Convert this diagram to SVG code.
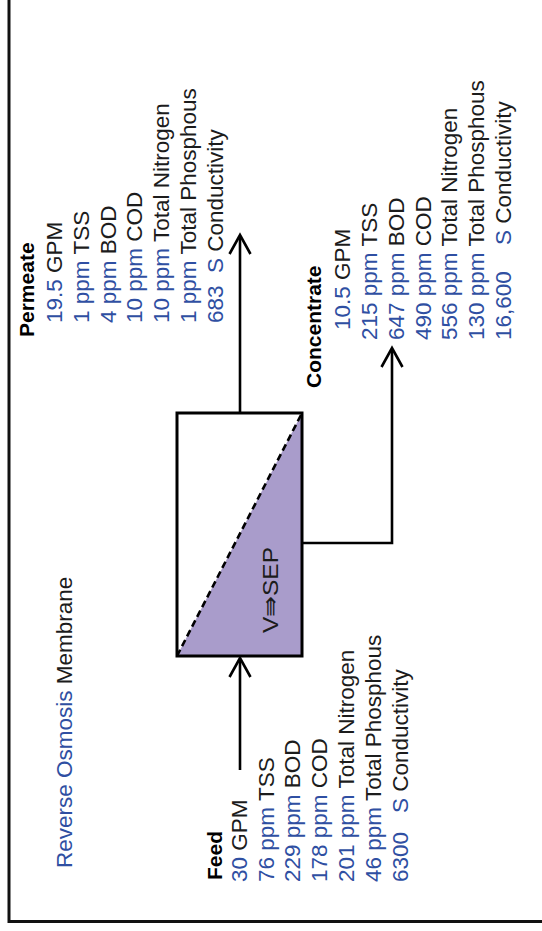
<svg xmlns="http://www.w3.org/2000/svg" width="542" height="931" viewBox="0 0 542 931">
  <style>
    text { font-family: "Liberation Sans", Arial, sans-serif; font-size: 22.5px; fill: #1c1c1c; }
    .h { font-weight: bold; font-size: 21px; fill: #000; }
    .v { fill: #2f4fa2; }
    .wire { fill: none; stroke: #000; stroke-width: 2.6; }
    .head { fill: none; stroke: #000; stroke-width: 2.6; stroke-linejoin: miter; }
  </style>
  <defs>
    <!-- open chevron arrowhead, tip at origin pointing up -->
    <path id="chev" d="M-10.5,19 L0,0 L10.5,19"/>
  </defs>

  <rect x="0" y="0" width="542" height="931" fill="#fff"/>
  <!-- page frame (top and right edges run off the sheet) -->
  <rect x="9" y="-20" width="600" height="941.5" fill="none" stroke="#111" stroke-width="3"/>

  <g id="title">
    <text transform="translate(72 868) rotate(-90)"><tspan class="v">Reverse Osmosis</tspan> Membrane</text>
  </g>

  <g id="membrane">
    <polygon points="177,656 302,413 302,656" fill="#a99ccb"/>
    <line x1="177" y1="656" x2="302" y2="413" stroke="#000" stroke-width="2.6" stroke-dasharray="7,4"/>
    <rect x="177" y="413" width="125" height="243" fill="none" stroke="#000" stroke-width="3"/>
    <text transform="translate(278 633) rotate(-90)" font-size="21" textLength="86" lengthAdjust="spacingAndGlyphs">V⇛SEP</text>
  </g>

  <g id="connectors">
    <!-- feed into the membrane -->
    <line class="wire" x1="240" y1="770" x2="240" y2="659"/>
    <use href="#chev" class="head" transform="translate(240 658)"/>
    <!-- permeate out of the top -->
    <line class="wire" x1="240" y1="413" x2="240" y2="236"/>
    <use href="#chev" class="head" transform="translate(240 235)"/>
    <!-- concentrate out of the side -->
    <polyline class="wire" points="302,543 392,543 392,349"/>
    <use href="#chev" class="head" transform="translate(392 348)"/>
  </g>

  <g id="feed">
    <text class="h" transform="translate(222 880) rotate(-90)">Feed</text>
    <text transform="translate(247 882) rotate(-90)"><tspan class="v">30</tspan> GPM</text>
    <text transform="translate(274 882) rotate(-90)"><tspan class="v">76 ppm</tspan> TSS</text>
    <text transform="translate(300 882) rotate(-90)"><tspan class="v">229 ppm</tspan> BOD</text>
    <text transform="translate(327 882) rotate(-90)"><tspan class="v">178 ppm</tspan> COD</text>
    <text transform="translate(354 882) rotate(-90)"><tspan class="v">201 ppm</tspan> Total Nitrogen</text>
    <text transform="translate(381 882) rotate(-90)"><tspan class="v">46 ppm</tspan> Total Phosphous</text>
    <text transform="translate(408 882) rotate(-90)"><tspan class="v">6300</tspan><tspan class="v" x="69">S</tspan> Conductivity</text>
  </g>

  <g id="permeate">
    <text class="h" transform="translate(34 337) rotate(-90)">Permeate</text>
    <text transform="translate(62 323) rotate(-90)"><tspan class="v">19.5</tspan> GPM</text>
    <text transform="translate(89 323) rotate(-90)"><tspan class="v">1 ppm</tspan> TSS</text>
    <text transform="translate(116 323) rotate(-90)"><tspan class="v">4 ppm</tspan> BOD</text>
    <text transform="translate(142 323) rotate(-90)"><tspan class="v">10 ppm</tspan> COD</text>
    <text transform="translate(169 323) rotate(-90)"><tspan class="v">10 ppm</tspan> Total Nitrogen</text>
    <text transform="translate(196 323) rotate(-90)"><tspan class="v">1 ppm</tspan> Total Phosphous</text>
    <text transform="translate(223 323) rotate(-90)"><tspan class="v">683</tspan><tspan class="v" x="50">S</tspan> Conductivity</text>
  </g>

  <g id="concentrate">
    <text class="h" transform="translate(321 388) rotate(-90)">Concentrate</text>
    <text transform="translate(350 330) rotate(-90)"><tspan class="v">10.5</tspan> GPM</text>
    <text transform="translate(377 340) rotate(-90)"><tspan class="v">215 ppm</tspan> TSS</text>
    <text transform="translate(404 340) rotate(-90)"><tspan class="v">647 ppm</tspan> BOD</text>
    <text transform="translate(431 340) rotate(-90)"><tspan class="v">490 ppm</tspan> COD</text>
    <text transform="translate(457 340) rotate(-90)"><tspan class="v">556 ppm</tspan> Total Nitrogen</text>
    <text transform="translate(484 340) rotate(-90)"><tspan class="v">130 ppm</tspan> Total Phosphous</text>
    <text transform="translate(511 340) rotate(-90)"><tspan class="v">16,600</tspan><tspan class="v" x="95">S</tspan> Conductivity</text>
  </g>
</svg>
